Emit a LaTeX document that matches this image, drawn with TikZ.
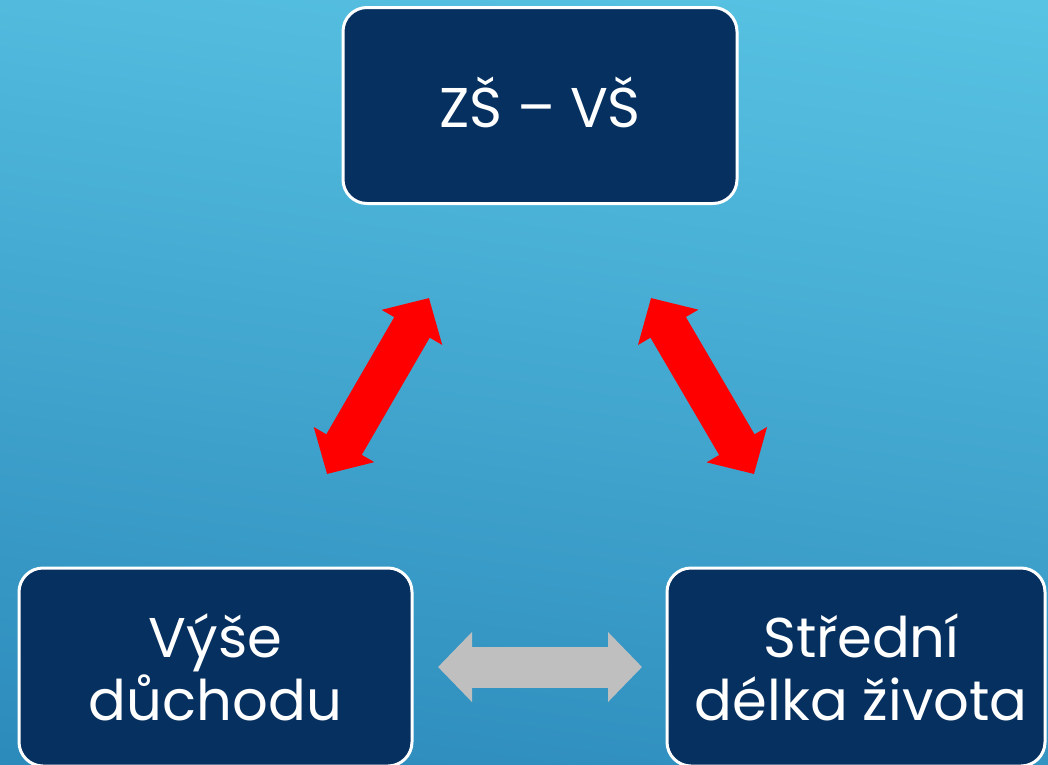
\documentclass[tikz,border=0pt]{standalone}
\usepackage{fontspec}
\setmainfont{Poppins}
\usetikzlibrary{arrows.meta}
\definecolor{bgtop}{HTML}{59C4E4}
\definecolor{bgbot}{HTML}{2C8ABB}
\definecolor{boxfill}{HTML}{06305F}
\definecolor{greyarrow}{HTML}{BFBFBF}
\tikzset{
  box/.style={draw=white, line width=2.25pt, fill=boxfill, rounded corners=18pt,
    text=white, align=center, inner sep=0pt,
    font=\fontsize{42}{47.25}\selectfont},
  bigdouble/.style={line width=30.75pt,
    {Triangle[width=51pt,length=25.5pt]}-{Triangle[width=51pt,length=25.5pt]}}
}
\begin{document}
\begin{tikzpicture}[x=0.75pt,y=-0.75pt]
\useasboundingbox (0,0) rectangle (1048,764);
\clip (0,0) rectangle (1048,764);
\shade[top color=bgtop, bottom color=bgbot, shading angle=-8] (-60,-60) rectangle (1108,824);
\node[box, minimum width=295.5pt, minimum height=147pt] (zs) at (540,105.5) {\raisebox{5pt}{ZŠ – VŠ}};
\node[box, minimum width=294.75pt, minimum height=148.5pt] (vyse) at (215.5,667) {Výše\\důchodu};
\node[box, minimum width=283.5pt, minimum height=148.5pt] (stred) at (856,667) {\hspace*{8pt}Střední\\\hspace*{8pt}délka života};
\coordinate (l1) at (327,474);
\coordinate (l2) at (429,298);
\coordinate (r1) at (651,298);
\coordinate (r2) at (754,474);
\coordinate (g1) at (438,667);
\coordinate (g2) at (642,667);
\draw[bigdouble, red] (l1) -- (l2);
\draw[bigdouble, red] (r1) -- (r2);
\draw[bigdouble, greyarrow] (g1) -- (g2);
\end{tikzpicture}
\end{document}
